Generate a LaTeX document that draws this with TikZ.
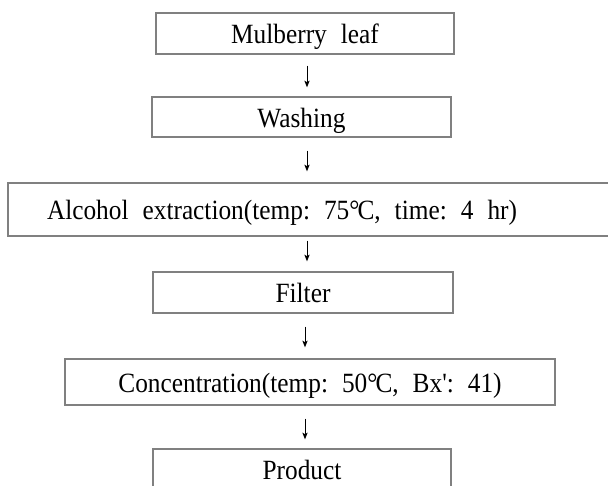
\documentclass[tikz,border=0pt]{standalone}
\usepackage{fontspec}
\usepackage{graphicx}
\setmainfont{Liberation Serif}[Ligatures=TeXOff]
\usetikzlibrary{arrows.meta}
\newcommand\stxt[1]{\scalebox{1}[1.1]{\spaceskip=10.5pt\xspaceskip=10.5pt\relax #1}}
\tikzset{
  stepbox/.style={draw=black!50, line width=1.1pt, inner sep=0pt, anchor=center,
    font={\fontsize{19}{22}\selectfont},
    text height=16.5pt, text depth=1.5pt},
  flowarr/.style={draw=black, line width=0.7pt, -{Stealth[length=5pt,width=4pt,inset=1.2pt]}},
}
\begin{document}
\begin{tikzpicture}[x=0.75pt, y=-0.75pt]
\useasboundingbox (0,0) rectangle (608,486);
\node[stepbox, minimum width=298*0.75pt, minimum height=41*0.75pt] (b1) at (305,33.5) {\stxt{Mulberry leaf}};
\node[stepbox, minimum width=299*0.75pt, minimum height=40*0.75pt] (b2) at (301.5,117) {\stxt{Washing}};
\node[stepbox, minimum height=53*0.75pt, text width=534*0.75pt, inner xsep=39*0.75pt, align=left] (b3) at (314,209.5)
  {\stxt{Alcohol extraction(temp: 75°\kern-1.5pt C, time: 4 hr)}};
\node[stepbox, minimum width=300*0.75pt, minimum height=41*0.75pt] (b4) at (303,292.5) {\stxt{Filter}};
\node[stepbox, minimum width=490*0.75pt, minimum height=46*0.75pt] (b5) at (310,382) {\stxt{Concentration(temp: 50°\kern-1.5pt C, Bx': 41)}};
\node[stepbox, minimum width=298*0.75pt, minimum height=41*0.75pt] (b6) at (302,469.5) {\stxt{Product}};
\coordinate (axa) at (307,0);
\coordinate (axb) at (305,0);
\draw[flowarr, shorten <=11*0.75pt, shorten >=9*0.75pt] (b1.south -| axa) -- (b2.north -| axa);
\draw[flowarr, shorten <=13*0.75pt, shorten >=11*0.75pt] (b2.south -| axa) -- (b3.north -| axa);
\draw[flowarr, shorten <=4*0.75pt, shorten >=10*0.75pt] (b3.south -| axa) -- (b4.north -| axa);
\draw[flowarr, shorten <=13*0.75pt, shorten >=11*0.75pt] (b4.south -| axb) -- (b5.north -| axb);
\draw[flowarr, shorten <=13*0.75pt, shorten >=9*0.75pt] (b5.south -| axb) -- (b6.north -| axb);
\end{tikzpicture}
\end{document}
